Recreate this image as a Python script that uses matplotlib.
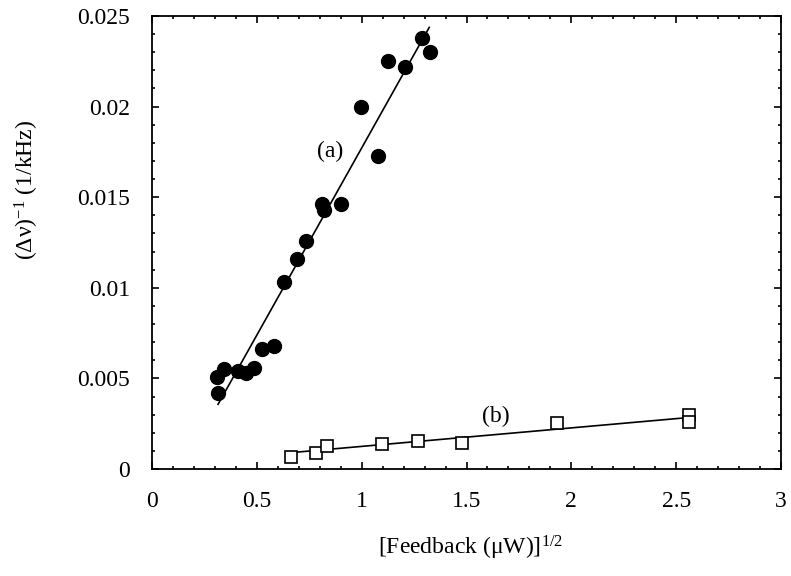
# Linewidth inverse vs sqrt(feedback power), two data sets with linear fits
import matplotlib
matplotlib.use('Agg')
import matplotlib.pyplot as plt
import numpy as np
from matplotlib.ticker import MultipleLocator

plt.rcParams['font.family'] = ['Liberation Serif', 'DejaVu Serif']
plt.rcParams['mathtext.fontset'] = 'custom'
plt.rcParams['mathtext.rm'] = 'Liberation Serif'
plt.rcParams['mathtext.it'] = 'Liberation Serif:italic'

# series (a): filled circles
a_x = [0.315, 0.31, 0.343, 0.41, 0.447, 0.487, 0.524, 0.582, 0.63, 0.69,
       0.735, 0.81, 0.82, 0.90, 0.997, 1.078, 1.126, 1.207, 1.288, 1.325]
a_y = [0.0042, 0.0051, 0.0055, 0.0054, 0.0053, 0.0056, 0.0066, 0.0068, 0.0103, 0.0116,
       0.0126, 0.0146, 0.0143, 0.0146, 0.0200, 0.0173, 0.0225, 0.0222, 0.0238, 0.0230]
# fit line (a), end points
fit_a_x = [0.315, 1.322]
fit_a_y = [0.00357, 0.02437]

# series (b): open squares
b_x = [0.661, 0.78, 0.836, 1.097, 1.267, 1.479, 1.93, 2.56, 2.56]
b_y = [0.00065, 0.0009, 0.00129, 0.00138, 0.00155, 0.00145, 0.00252, 0.0030, 0.0026]
fit_b_x = [0.661, 2.56]
fit_b_y = [0.0009, 0.00284]

x_ticks = [0, 0.5, 1, 1.5, 2, 2.5, 3]
x_tick_labels = ['0', '0.5', '1', '1.5', '2', '2.5', '3']
y_ticks = [0, 0.005, 0.01, 0.015, 0.02, 0.025]
y_tick_labels = ['0', '0.005', '0.01', '0.015', '0.02', '0.025']

fig = plt.figure(figsize=(7.91, 5.76), dpi=100)
ax = fig.add_axes([0.1922, 0.1858, 0.7952, 0.7864])

ax.plot(fit_a_x, fit_a_y, color='black', lw=1.2)
ax.plot(a_x, a_y, 'o', color='black', ms=10)
ax.plot(fit_b_x, fit_b_y, color='black', lw=1.2)
ax.plot(b_x, b_y, 's', mfc='white', mec='black', mew=1.2, ms=8)

ax.text(0.85, 0.0175, '(a)', fontsize=17, ha='center', va='center')
ax.text(1.64, 0.00290, '(b)', fontsize=17, ha='center', va='center')

ax.set_xlim(0, 3)
ax.set_ylim(0, 0.025)
ax.set_xticks(x_ticks)
ax.set_xticklabels(x_tick_labels)
ax.set_yticks(y_ticks)
ax.set_yticklabels(y_tick_labels)
ax.xaxis.set_minor_locator(MultipleLocator(0.1))
ax.yaxis.set_minor_locator(MultipleLocator(0.001))
ax.tick_params(which='both', direction='in', top=True, right=True, width=1.2)
ax.tick_params(which='major', length=5, labelsize=17)
ax.tick_params(which='minor', length=2.5)
ax.tick_params(axis='x', which='major', pad=16)
ax.tick_params(axis='y', which='major', pad=16)
for s in ax.spines.values():
    s.set_linewidth(1.3)

fig.text(0.034, 0.67, r'(Δν)$^{-1}$ (1/kHz)', rotation=90,
         fontsize=17, ha='center', va='center')
fig.text(0.595, 0.048, r'[Feedback (μW)]$^{1/2}$', fontsize=17,
         ha='center', va='center')

plt.savefig('out.png', dpi=100)
